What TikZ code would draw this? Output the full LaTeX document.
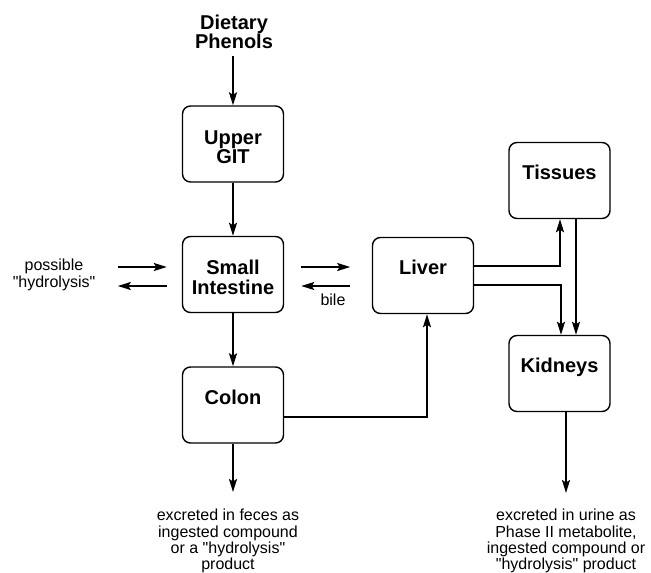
\documentclass[tikz,border=0pt]{standalone}
\usepackage{fontspec}
\newfontfamily\lib{Liberation Sans}
\usetikzlibrary{arrows.meta}
\begin{document}
\begin{tikzpicture}[x=1pt,y=-1pt,
 box/.style={draw, line width=1.4pt, rounded corners=8pt, minimum width=101pt, minimum height=76pt, inner sep=0pt},
 blbl/.style={font=\lib\fontsize{20}{19.5}\selectfont\bfseries, align=center, inner sep=0pt},
 tlbl/.style={font=\lib\fontsize{16}{16.3}\selectfont, align=center, inner sep=0pt},
 arr/.style={line width=1.9pt, -{Stealth[length=13pt,width=8pt,inset=2.5pt]}}]
\useasboundingbox (0,0) rectangle (651,573);
% boxes
\node[box] (git) at (233,144) {};
\node[box] (si) at (233,274.5) {};
\node[box] (colon) at (233,405) {};
\node[box] (liver) at (423,275.5) {};
\node[box] (tis) at (559.5,180.5) {};
\node[box] (kid) at (559.5,373.5) {};
% labels
\node[blbl] (gitl) at ([yshift=-3pt]git.center) {Upper\\GIT};
\node[blbl] (sil) at ([yshift=-3pt]si.center) {Small\\Intestine};
\node[blbl, anchor=base] (colonl) at ([yshift=1pt]colon.center) {Colon};
\node[blbl, anchor=base] (liverl) at ([yshift=1pt]liver.center) {Liver};
\node[blbl, anchor=base] (tisl) at ([yshift=1pt]tis.center) {Tissues};
\node[blbl, anchor=base] (kidl) at ([yshift=1pt]kid.center) {Kidneys};
\node[blbl] (diet) at (234,32) {Dietary\\Phenols};
\node[tlbl] (hyd) at (54,275) {possible\\"hydrolysis"};
\node[tlbl] (bile) at (333,300) {bile};
\node[tlbl, anchor=north] (fec) at (228,509) {excreted in feces as\\ingested compound\\or a "hydrolysis"\\product};
\node[tlbl, anchor=north] (uri) at (566,509) {excreted in urine as\\Phase II metabolite,\\ingested compound or\\"hydrolysis" product};
% free ends
\coordinate (dietend) at (233,56);
\coordinate (colend) at (233,492);
\coordinate (kidend) at (566,493);
% connectors
\draw[arr] (dietend) -- (git.north);
\draw[arr] (git.south) -- (si.north);
\draw[arr] (si.south) -- (colon.north);
\draw[arr] (colon.south) -- (colend);
\draw[arr] ([shift={(-64,-7.5)}]si.west) -- ([shift={(-15,-7.5)}]si.west);
\draw[arr] ([shift={(-15,11.5)}]si.west) -- ([shift={(-64,11.5)}]si.west);
\draw[arr] ([shift={(17,-7.5)}]si.east) -- ([shift={(66,-7.5)}]si.east);
\draw[arr] ([shift={(66,11.5)}]si.east) -- ([shift={(17,11.5)}]si.east);
\draw[arr] ([yshift=9.5pt]liver.east) -| ([xshift=0.5pt]tis.south);
\draw[arr] ([yshift=-9.5pt]liver.east) -| ([xshift=1.5pt]kid.north);
\draw[arr] ([xshift=16.5pt]tis.south) -- ([xshift=16.5pt]kid.north);
\draw[arr] ([yshift=-12pt]colon.east) -| ([xshift=4pt]liver.south);
\draw[arr] ([xshift=6.5pt]kid.south) -- (kidend);
\end{tikzpicture}
\end{document}
